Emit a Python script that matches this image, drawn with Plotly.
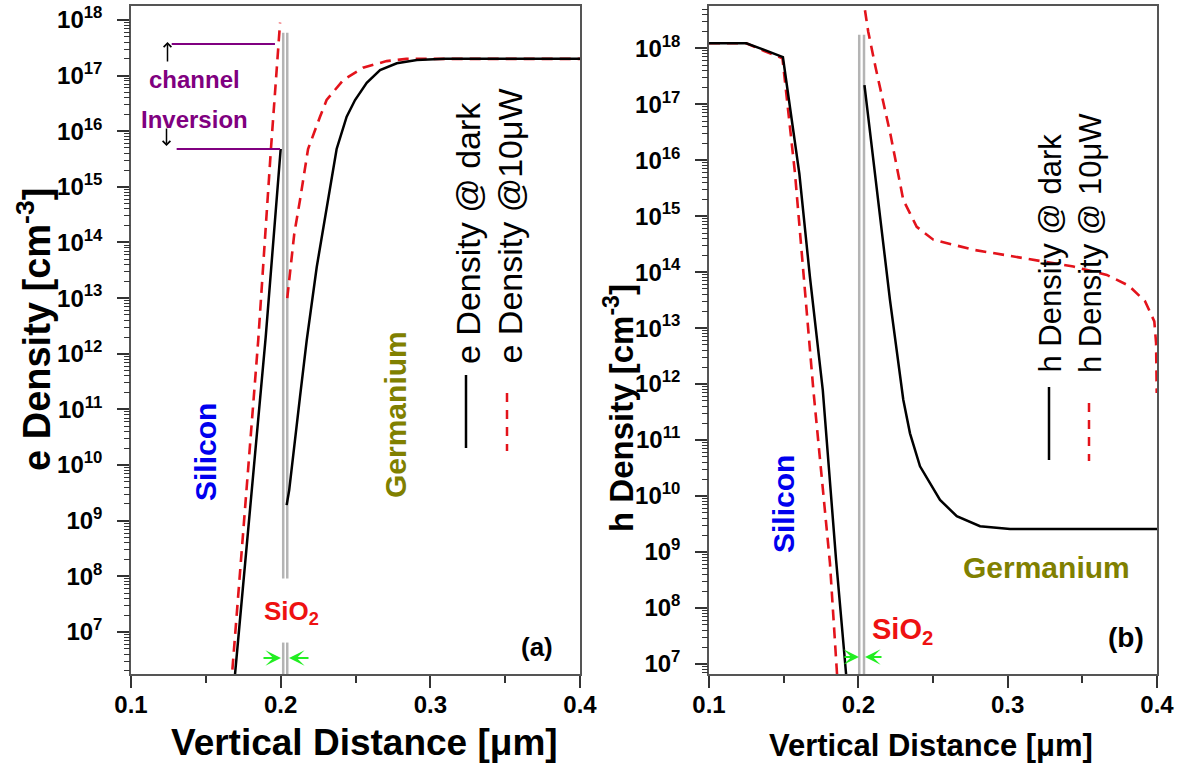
import numpy as np
import plotly.graph_objects as go

W, H = 1184, 765
FONT = "Liberation Sans, Arial, sans-serif"

# ---------------- data (densities given as log10 values) ----------------
# Panel (a): electron density
e_dark_si_x = [0.1687, 0.190, 0.200]
e_dark_si_log = [6.0, 12.3, 15.68]
e_dark_ge_x = [0.2040, 0.2057, 0.2129, 0.2174, 0.2241, 0.2314, 0.2374, 0.2441,
               0.2497, 0.2575, 0.2664, 0.2776, 0.2910, 0.3100, 0.4000]
e_dark_ge_log = [9.28, 9.55, 11.22, 12.24, 13.56, 14.76, 15.68, 16.26,
                 16.56, 16.87, 17.10, 17.22, 17.28, 17.30, 17.30]
e_light_si_x = [0.1668, 0.1850, 0.1935, 0.1960, 0.1996]
e_light_si_log = [6.0, 12.24, 15.68, 16.56, 17.95]
e_light_ge_x = [0.2044, 0.2091, 0.2129, 0.2183, 0.2263, 0.2307, 0.2418, 0.2550,
                0.2708, 0.2840, 0.3100, 0.4000]
e_light_ge_log = [13.0, 14.16, 14.76, 15.68, 16.26, 16.56, 16.92, 17.14,
                  17.26, 17.30, 17.30, 17.30]

# inversion channel markers (panel a)
inv_top_x = [0.1272, 0.1962]
inv_top_val = 3.7e17
inv_bot_x = [0.1305, 0.1996]
inv_bot_val = 4.8e15

# Panel (b): hole density
h_dark_si_x = [0.100, 0.125, 0.137, 0.1495, 0.1605, 0.1676, 0.1762, 0.1851, 0.1918, 0.1930]
h_dark_si_log = [18.09, 18.09, 17.97, 17.84, 15.76, 13.91, 11.89, 8.86, 6.82, 6.5]
h_light_si_x = [0.100, 0.125, 0.137, 0.1492, 0.1576, 0.1699, 0.1810, 0.1857, 0.1865]
h_light_si_log = [18.09, 18.09, 17.95, 17.82, 15.76, 11.89, 8.80, 6.82, 6.5]
h_dark_ge_x = [0.2041, 0.2134, 0.2212, 0.2301, 0.2346, 0.2413, 0.2547, 0.2659,
               0.2815, 0.3016, 0.4000]
h_dark_ge_log = [17.34, 15.29, 13.50, 11.72, 11.12, 10.53, 9.93, 9.64,
                 9.46, 9.41, 9.41]
h_light_ge_x = [0.2036, 0.2041, 0.2066, 0.2116, 0.2216, 0.2301, 0.2346, 0.2391,
                0.2502, 0.2770, 0.3105, 0.3440, 0.3664, 0.3810, 0.3920, 0.3982,
                0.3994, 0.3998]
h_light_ge_log = [19.0, 18.74, 18.30, 17.65, 16.45, 15.29, 15.05, 14.81,
                  14.58, 14.40, 14.25, 14.10, 13.95, 13.76, 13.48, 13.12,
                  12.73, 11.84]

# SiO2 layer boundaries
ox_a = [0.2017, 0.2044]
ox_b = [0.2006, 0.2038]

x_ticks = [0.1, 0.2, 0.3, 0.4]
x_minor = [0.15, 0.25, 0.35]
y_decades = list(range(7, 19))      # 10^7 ... 10^18

# axis ranges (log10 for y)
yr_a = [6.245, 18.25]
yr_b = [6.82, 18.755]


def pw(a):
    return [10 ** v for v in a]


def join(x1, y1, x2, y2):
    return list(x1) + [None] + list(x2), list(y1) + [None] + list(y2)


RED = "#e3131b"
BLACK = "#000000"
GRAY = "#b4b4b4"
PURPLE = "#800080"

fig = go.Figure()
fig.update_layout(template="none")


def oxide(xs, top, gap, bottom, xa, ya):
    for xv in xs:
        if gap:
            xx = [xv, xv, None, xv, xv]
            yy = [10 ** top, 10 ** gap[1], None, 10 ** gap[0], 10 ** bottom]
        else:
            xx = [xv, xv]
            yy = [10 ** top, 10 ** bottom]
        fig.add_trace(go.Scatter(x=xx, y=yy, mode="lines", xaxis=xa, yaxis=ya,
                                 line=dict(color=GRAY, width=2.5), hoverinfo="skip",
                                 connectgaps=False))


oxide(ox_a, 17.77, (6.81, 7.96), 6.0, "x", "y")
oxide(ox_b, 18.24, None, 6.5, "x2", "y2")

# ---- panel (a) ----
xx, yy = join(e_light_si_x, pw(e_light_si_log), e_light_ge_x, pw(e_light_ge_log))
fig.add_trace(go.Scatter(x=xx, y=yy, mode="lines", xaxis="x", yaxis="y",
                         name="e Density @10μW",
                         line=dict(color=RED, width=2.6, dash="11px,7px")))
xx, yy = join(e_dark_si_x, pw(e_dark_si_log), e_dark_ge_x, pw(e_dark_ge_log))
fig.add_trace(go.Scatter(x=xx, y=yy, mode="lines", xaxis="x", yaxis="y",
                         name="e Density @ dark",
                         line=dict(color=BLACK, width=2.5)))
fig.add_trace(go.Scatter(x=inv_top_x, y=[inv_top_val] * 2, mode="lines", xaxis="x", yaxis="y",
                         line=dict(color=PURPLE, width=2), hoverinfo="skip"))
fig.add_trace(go.Scatter(x=inv_bot_x, y=[inv_bot_val] * 2, mode="lines", xaxis="x", yaxis="y",
                         line=dict(color=PURPLE, width=2), hoverinfo="skip"))

# ---- panel (b) ----
xx, yy = join(h_light_si_x, pw(h_light_si_log), h_light_ge_x, pw(h_light_ge_log))
fig.add_trace(go.Scatter(x=xx, y=yy, mode="lines", xaxis="x2", yaxis="y2",
                         name="h Density @ 10μW",
                         line=dict(color=RED, width=2.6, dash="11px,7px")))
xx, yy = join(h_dark_si_x, pw(h_dark_si_log), h_dark_ge_x, pw(h_dark_ge_log))
fig.add_trace(go.Scatter(x=xx, y=yy, mode="lines", xaxis="x2", yaxis="y2",
                         name="h Density @ dark",
                         line=dict(color=BLACK, width=2.5)))

# invisible anchors for the minor-tick overlay axes
for xa, ya, yv in (("x", "y3", 1e10), ("x2", "y4", 1e10)):
    fig.add_trace(go.Scatter(x=[0.3], y=[yv], mode="markers", xaxis=xa, yaxis=ya,
                             marker=dict(opacity=0), hoverinfo="skip"))


# ---------------- axes ----------------
def minor_log(lo, hi):
    vals = []
    for n in range(int(np.floor(lo)), int(np.ceil(hi)) + 1):
        for d in range(2, 10):
            v = d * 10.0 ** n
            if lo <= np.log10(v) <= hi:
                vals.append(v)
    return vals


def px_dom(a, b, total):
    return [a / total, b / total]


ydom = [1 - 674 / H, 1 - 6 / H]
TICKCOL = "#333333"
common_x = dict(range=[0.1, 0.4], tickmode="array", tickvals=x_ticks,
                ticktext=[str(v) for v in x_ticks], ticks="outside", ticklen=12,
                tickwidth=1.5, tickcolor=TICKCOL, showgrid=False, zeroline=False,
                showline=True, linecolor="#555555", linewidth=1.5, mirror=True,
                automargin=False,
                tickfont=dict(family=FONT, size=24, color="black", weight="bold"),
                ticklabelstandoff=-4,
                minor=dict(tickmode="array", tickvals=x_minor, ticks="outside", ticklen=7,
                           tickwidth=1.5, tickcolor=TICKCOL, showgrid=False))
common_y = dict(type="log", tickmode="array", tickvals=[10.0 ** n for n in y_decades],
                ticktext=["10<sup>%d</sup>" % n for n in y_decades],
                ticks="outside", ticklen=12, tickwidth=1.5, tickcolor=TICKCOL,
                showgrid=False, zeroline=False, showline=True, linecolor="#555555",
                linewidth=1.5, mirror=True, automargin=False,
                tickfont=dict(family=FONT, size=24, color="black", weight="bold"),
                ticklabelstandoff=10)
minor_y = dict(type="log", tickmode="array", ticks="outside", ticklen=6, tickwidth=1,
               tickcolor=TICKCOL, showticklabels=False, showline=False, showgrid=False,
               zeroline=False, automargin=False, side="left")

fig.update_layout(
    width=W, height=H, margin=dict(l=0, r=0, t=0, b=0, autoexpand=False),
    paper_bgcolor="white", plot_bgcolor="white", showlegend=False,
    xaxis=dict(domain=px_dom(131, 580, W), anchor="y", **common_x),
    yaxis=dict(domain=ydom, anchor="x", range=yr_a, **common_y),
    xaxis2=dict(domain=px_dom(709, 1157, W), anchor="y2", **common_x),
    yaxis2=dict(domain=ydom, anchor="x2", range=yr_b, **common_y),
    yaxis3=dict(overlaying="y", anchor="x", range=yr_a, tickvals=minor_log(*yr_a), **minor_y),
    yaxis4=dict(overlaying="y2", anchor="x2", range=yr_b, tickvals=minor_log(*yr_b), **minor_y),
)


# ---------------- annotations ----------------
def P(px, py):
    return px / W, 1 - py / H


ann = []


def txt(s, px, py, size, color, bold=True, angle=0, xanchor="center", yanchor="middle"):
    x, y = P(px, py)
    ann.append(dict(text=s, x=x, y=y, xref="paper", yref="paper", showarrow=False,
                    font=dict(family=FONT, size=size, color=color,
                              weight="bold" if bold else "normal"),
                    textangle=angle, xanchor=xanchor, yanchor=yanchor))


def arrow(hx, hy, tx, ty, color, head=3, width=2, size=1.0):
    x, y = P(hx, hy)
    ann.append(dict(text="", x=x, y=y, xref="paper", yref="paper", ax=tx - hx, ay=ty - hy,
                    axref="pixel", ayref="pixel", showarrow=True, arrowhead=head,
                    arrowcolor=color, arrowwidth=width, arrowsize=size, standoff=0))


# axis titles
txt("e Density [cm<sup>-3</sup>]", 34, 330, 38, "black", angle=-90)
txt("Vertical Distance [μm]", 364, 742, 37, "black")
txt("h Density [cm<sup>-3</sup>]", 619, 408, 33, "black", angle=-90)
txt("Vertical Distance [μm]", 931, 745, 31, "black")

# panel (a) labels
txt("channel", 194, 80, 24, PURPLE)
txt("Inversion", 194, 119, 24, PURPLE)
arrow(167.5, 42, 167.5, 63, "black", head=4, width=1.5, size=1.0)
arrow(166.5, 146, 166.5, 127, "black", head=4, width=1.5, size=1.0)
txt("Silicon", 205, 452, 30, "#0000ee", angle=-90)
txt("Germanium", 396, 415, 30, "#808000", angle=-90)
txt("SiO<sub>2</sub>", 291, 612, 26, "#ee1111")
txt("(a)", 537, 647, 26, "black")
arrow(281, 658, 262, 658, "#22ee22", head=3, width=2, size=1.3)
arrow(289, 658, 310, 658, "#22ee22", head=3, width=2, size=1.3)
# legend (a)
txt("e Density @ dark", 468, 366, 34, "black", bold=False, angle=-90, yanchor="bottom")
txt("e Density @10μW", 509, 366, 34, "black", bold=False, angle=-90, yanchor="bottom")

# panel (b) labels
txt("Silicon", 783, 504, 30, "#0000ee", angle=-90)
txt("Germanium", 1046, 567, 30, "#808000")
txt("SiO<sub>2</sub>", 902, 631, 29, "#ee1111")
txt("(b)", 1126, 637, 28, "black")
arrow(859, 657, 843, 657, "#22ee22", head=3, width=2, size=1.3)
arrow(865, 657, 883, 657, "#22ee22", head=3, width=2, size=1.3)
txt("h Density @ dark", 1050, 375, 31, "black", bold=False, angle=-90, yanchor="bottom")
txt("h Density @ 10μW", 1090, 375, 31, "black", bold=False, angle=-90, yanchor="bottom")

fig.update_layout(annotations=ann)

shapes = []


def vline(px, py0, py1, color, dash=None):
    x, y0 = P(px, py0)
    _, y1 = P(px, py1)
    shapes.append(dict(type="line", xref="paper", yref="paper", x0=x, x1=x, y0=y0, y1=y1,
                       line=dict(color=color, width=2.5, dash=dash or "solid")))


vline(466, 375, 448, BLACK)
vline(507, 393, 451, RED, "9px,8px")
vline(1049, 387, 460, BLACK)
vline(1089, 403, 461, RED, "9px,8px")
fig.update_layout(shapes=shapes)

fig.write_html("out.html")
